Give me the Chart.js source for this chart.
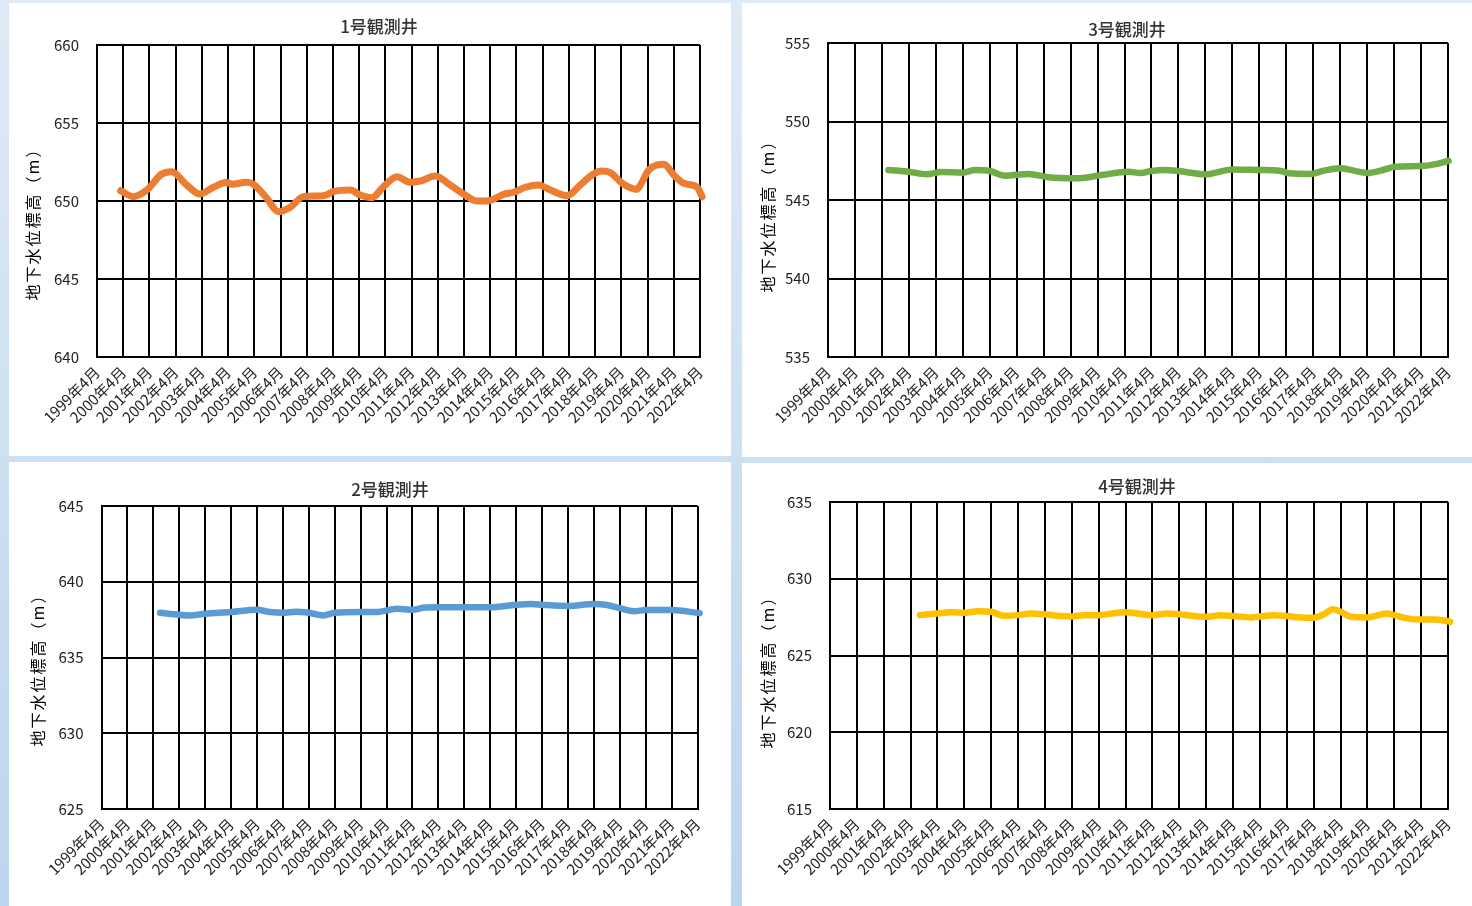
<!DOCTYPE html>
<html lang="ja">
<head>
<meta charset="utf-8">
<title>観測井 地下水位</title>
<script src="https://cdn.jsdelivr.net/npm/chart.js@4.4.1/dist/chart.umd.min.js"></script>
<style>
  body { margin: 0; width: 1472px; height: 906px; overflow: hidden; position: relative;
         background: linear-gradient(#dfeaf6, #bcd5ee); }
  .panel { position: absolute; background: #fff; }
</style>
</head>
<body>
<div class="panel" style="left:9px;top:3px;width:722px;height:453px"><canvas id="well1"></canvas></div>
<div class="panel" style="left:742px;top:3px;width:730px;height:454px"><canvas id="well3"></canvas></div>
<div class="panel" style="left:9px;top:462px;width:722px;height:444px"><canvas id="well2"></canvas></div>
<div class="panel" style="left:742px;top:463px;width:730px;height:443px"><canvas id="well4"></canvas></div>
<script>
// x labels, one per April (1999年4月 .. 2022年4月)
const yearLabels = ['1999年4月','2000年4月','2001年4月','2002年4月','2003年4月','2004年4月','2005年4月','2006年4月',
  '2007年4月','2008年4月','2009年4月','2010年4月','2011年4月','2012年4月','2013年4月','2014年4月','2015年4月',
  '2016年4月','2017年4月','2018年4月','2019年4月','2020年4月','2021年4月','2022年4月'];

// time = years after 1999年4月, level = 地下水位標高 (m)
const well1Time  = [0.9,1.39,1.9,2.47,2.85,3.42,3.93,4.44,4.95,5.14,5.71,5.97,6.48,6.92,7.37,7.87,8.64,9.02,9.66,10.04,
  10.48,10.93,11.44,11.95,12.33,12.9,13.47,13.98,14.49,14.94,15.51,15.89,16.34,16.84,17.29,17.93,18.44,18.88,19.26,19.58,
  20.03,20.6,20.73,21.05,21.62,22.0,22.38,22.89,23.08];
const well1Level = [650.66,650.28,650.7,651.73,651.88,651.03,650.45,650.88,651.2,651.07,651.2,651.07,650.17,649.31,649.6,
  650.28,650.34,650.6,650.7,650.38,650.21,650.92,651.56,651.2,651.28,651.6,651.03,650.45,650.0,650.02,650.43,650.56,650.88,
  651.03,650.7,650.34,651.03,651.67,651.92,651.82,651.14,650.75,651.03,652.0,652.35,651.67,651.14,650.88,650.28];

const well3Time  = [2.24,3.0,3.66,4.22,5.0,5.45,6.0,6.57,7.43,8.17,9.16,9.53,10.15,11.14,11.6,12.0,12.5,13.0,14.0,15.0,
  16.0,16.8,17.1,17.9,18.4,19.0,19.5,20.0,20.5,21.05,22.0,22.5,23.02];
const well3Level = [546.91,546.80,546.64,546.78,546.74,546.91,546.85,546.55,546.66,546.45,546.38,546.42,546.59,546.80,546.72,
  546.85,546.91,546.85,546.64,546.95,546.91,546.85,546.70,546.66,546.87,547.02,546.87,546.72,546.87,547.12,547.16,547.27,547.5];

const well2Time  = [2.26,3.0,3.4,4.0,5.0,6.0,6.5,7.0,7.5,8.0,8.55,9.0,10.0,10.6,11.4,12.0,12.5,13.0,14.0,15.0,16.0,16.6,
  17.0,18.0,19.0,19.45,20.0,20.55,21.0,22.0,23.08];
const well2Level = [637.95,637.82,637.78,637.89,638.0,638.15,638.0,637.95,638.02,637.95,637.78,637.95,638.0,638.0,638.22,
  638.15,638.3,638.31,638.31,638.31,638.48,638.53,638.48,638.4,638.53,638.48,638.26,638.06,638.13,638.13,637.93];

const well4Time  = [3.35,4.0,4.5,5.0,5.5,6.0,6.46,7.0,7.47,8.0,8.47,9.0,9.45,10.0,10.43,11.0,11.43,12.0,12.55,13.0,14.0,
  14.54,15.0,15.66,16.0,16.53,17.0,17.53,18.0,18.4,18.71,19.0,19.4,20.0,20.53,20.72,21.0,21.63,22.0,22.5,23.08];
const well4Level = [627.63,627.74,627.81,627.78,627.89,627.85,627.59,627.63,627.74,627.68,627.59,627.54,627.63,627.63,627.72,
  627.81,627.74,627.63,627.74,627.68,627.52,627.63,627.57,627.48,627.54,627.63,627.57,627.48,627.46,627.70,628.02,627.85,
  627.52,627.48,627.68,627.74,627.63,627.37,627.35,627.35,627.2];

const yAxisTitle = '地下水位標高（m）';
const tickFont = "'Liberation Sans Narrow', 'Noto Sans CJK JP', sans-serif";
const cjkFont = "'Noto Sans CJK JP', sans-serif";

// chart title + spaced y-axis title, drawn at fixed spots like the Excel original
const wellTexts = {
    id: 'wellTexts',
    afterDraw(chart, args, o) {
        const c = chart.ctx;
        c.save();
        c.fillStyle = '#333';
        c.font = `500 17px ${cjkFont}`;
        c.textAlign = 'center';
        c.textBaseline = 'middle';
        c.fillText(o.title, o.titleX, o.titleY);

        c.translate(o.yTitleX, o.yTitleY);
        c.rotate(-Math.PI / 2);
        c.fillStyle = '#000';
        c.font = `16px ${cjkFont}`;
        c.letterSpacing = '2px';
        c.fillText(yAxisTitle, 0, 0);
        c.restore();
    }
};

function drawWell(id, title, times, levels, color, width, yMin, yMax, lay) {
    const ctx = document.getElementById(id);
    new Chart(ctx, {
        type: 'line',
        data: {
            datasets: [{
                data: times.map((t, i) => ({ x: t, y: levels[i] })),
                borderColor: color, borderWidth: width, pointRadius: 0,
                cubicInterpolationMode: 'monotone', clip: 10, borderCapStyle: 'round'
            }]
        },
        options: {
            responsive: true, maintainAspectRatio: false, animation: false,
            layout: { padding: { left: 0, right: lay.right, top: lay.top, bottom: 0 } },
            plugins: {
                legend: { display: false }, tooltip: { enabled: false }, title: { display: false },
                wellTexts: { title: title, titleX: lay.titleX, titleY: lay.titleY,
                             yTitleX: lay.yTitleX, yTitleY: lay.yTitleY }
            },
            scales: {
                x: {
                    type: 'linear', min: 0, max: yearLabels.length - 1,
                    ticks: { stepSize: 1, autoSkip: false, minRotation: 45, maxRotation: 45, padding: 6,
                             color: '#222', font: { family: tickFont, size: 15 },
                             callback: v => yearLabels[v] },
                    grid: { color: '#000', lineWidth: 2, drawTicks: false },
                    border: { color: '#000', width: 2 },
                    afterFit: s => { s.height = lay.xh; }
                },
                y: {
                    min: yMin, max: yMax,
                    ticks: { stepSize: 5, padding: 18, color: '#222', font: { family: tickFont, size: 15 } },
                    grid: { color: '#000', lineWidth: 2, drawTicks: false },
                    border: { color: '#000', width: 2 },
                    afterFit: s => { s.width = lay.yw; }
                }
            }
        },
        plugins: [wellTexts]
    });
}

drawWell('well1', '1号観測井', well1Time, well1Level, '#ed7d31', 7, 640, 660,
    { yw: 88, xh: 99, right: 31, top: 42, titleX: 370, titleY: 24, yTitleX: 24, yTitleY: 217 });
drawWell('well3', '3号観測井', well3Time, well3Level, '#70ad47', 6.5, 535, 555,
    { yw: 86, xh: 100, right: 24, top: 40, titleX: 385, titleY: 27, yTitleX: 26, yTitleY: 209 });
drawWell('well2', '2号観測井', well2Time, well2Level, '#5b9bd5', 6.5, 625, 645,
    { yw: 92.5, xh: 97, right: 33.5, top: 44, titleX: 381, titleY: 28, yTitleX: 29, yTitleY: 204 });
drawWell('well4', '4号観測井', well4Time, well4Level, '#ffc000', 6.5, 615, 635,
    { yw: 88, xh: 97, right: 24, top: 39, titleX: 395, titleY: 24, yTitleX: 26, yTitleY: 205 });
</script>
</body>
</html>
